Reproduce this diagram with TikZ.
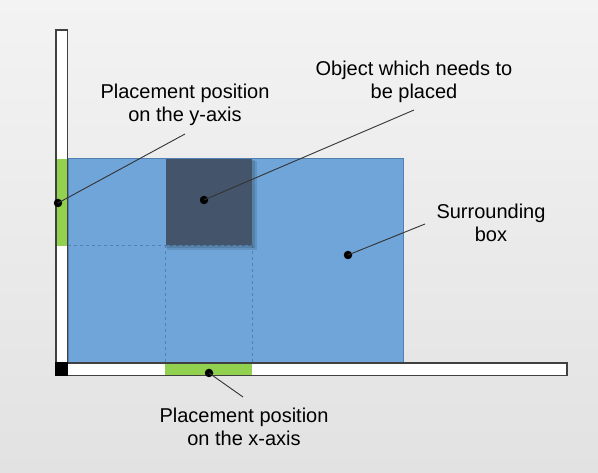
\documentclass[tikz,border=0pt]{standalone}
\usepackage{fontspec}
\setmainfont{Liberation Sans}
\usetikzlibrary{positioning, calc}
\definecolor{bgtop}{RGB}{243,243,243}
\definecolor{bgbottom}{RGB}{226,226,226}
\definecolor{boxblue}{RGB}{111,165,216}
\definecolor{boxedge}{RGB}{82,128,178}
\definecolor{objgrey}{RGB}{68,84,106}
\definecolor{placegreen}{RGB}{146,208,80}
\definecolor{axisgrey}{RGB}{64,64,64}

\tikzset{
    label text/.style={font=\fontsize{20}{23.5}\selectfont, align=center, anchor=base, inner sep=0pt},
    pin dot/.style={circle, fill=black, inner sep=0pt, minimum size=8.5pt},
    leader/.style={draw=black!80, line width=0.9pt},
    axis bar/.style={draw=axisgrey, line width=1.7pt},
    guide/.style={draw=boxedge, dashed, line width=0.8pt}
}

\begin{document}
\begin{tikzpicture}[x=1pt, y=-1pt]
    % Background
    \shade[top color=bgtop, bottom color=bgbottom] (0,0) rectangle (598,473);
    \useasboundingbox (0,0) rectangle (598,473);

    % Surrounding box
    \filldraw[fill=boxblue, draw=boxedge, line width=1pt] (68,159) rectangle (403,362.5);
    \draw[guide] (68,245.5) -- (252,245.5);
    \draw[guide] (165.5,245.5) -- (165.5,362.5);
    \draw[guide] (252,245.5) -- (252,362.5);

    % Object with its shadow
    \fill[black, opacity=0.10] (167,161) rectangle (257,250);
    \fill[black, opacity=0.12] (166,160) rectangle (255,248);
    \fill[objgrey] (165.5,159.5) rectangle (252,245.5);

    % Axes
    \fill[white] (56,30) rectangle (67.5,375.5);
    \fill[white] (56,363) rectangle (567,375.5);
    \fill[placegreen] (56,159.5) rectangle (67.5,246);
    \fill[placegreen] (165,363) rectangle (252,375);
    \draw[axis bar] (56,363) -- (56,30) -- (67.5,30) -- (67.5,363);
    \draw[axis bar] (56,363) -- (56,375.5) -- (567,375.5) -- (567,363) -- (67.5,363);
    \fill[black] (55,362) rectangle (68,376);

    % Dots
    \node[pin dot] (ydot) at (58,203) {};
    \node[pin dot] (objdot) at (204,200) {};
    \node[pin dot] (boxdot) at (348,255) {};
    \node[pin dot] (xdot) at (209,373) {};

    % Labels
    \node[label text] (ylabel) at (185,122) {Placement position\\on the y-axis};
    \node[label text] (objlabel) at (414,99) {Object which needs to\\be placed};
    \node[label text] (boxlabel) at (491,242) {Surrounding\\box};
    \node[label text] (xlabel) at (244,446) {Placement position\\on the x-axis};

    % Leader lines
    \coordinate (yend) at (185,134);
    \coordinate (objend) at (414,110);
    \coordinate (boxend) at (425,224);
    \coordinate (xend) at (243,397);
    \draw[leader] (ydot.center) -- (yend);
    \draw[leader] (objdot.center) -- (objend);
    \draw[leader] (boxdot.center) -- (boxend);
    \draw[leader] (xdot.center) -- (xend);
\end{tikzpicture}
\end{document}
